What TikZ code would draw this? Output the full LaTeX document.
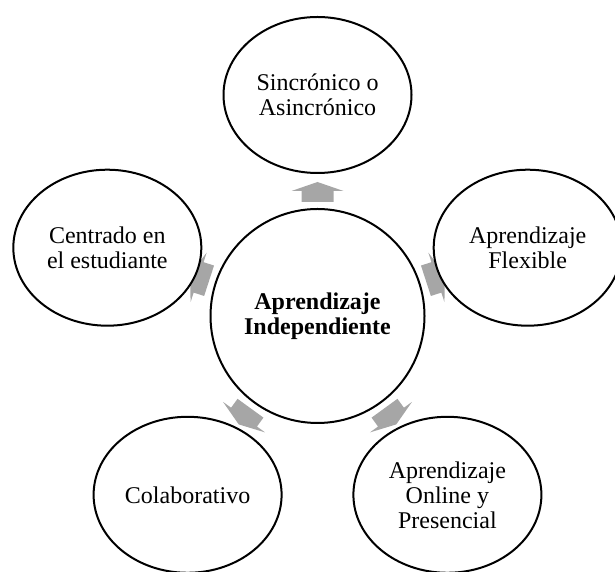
\documentclass[tikz,border=0pt]{standalone}
\usepackage{fontspec}
\setmainfont{Liberation Serif}
\usetikzlibrary{shapes.geometric}
\definecolor{arrowgray}{HTML}{A6A6A6}
\begin{document}
\begin{tikzpicture}[x=1pt,y=1pt,
  outer/.style={draw=black, line width=2pt, fill=white, ellipse,
    minimum width=188pt, minimum height=156pt, inner sep=0pt, align=center,
    font=\fontsize{24}{25}\selectfont},
  hub/.style={draw=black, line width=2pt, fill=white, circle,
    minimum size=214pt, inner sep=0pt, align=center,
    font=\fontsize{24}{25}\selectfont\bfseries},
  blockarrow/.style={fill=arrowgray, draw=none}]
\useasboundingbox (0,0) rectangle (615,572);
\clip (0,0) rectangle (615,572);
\coordinate (c) at (317.5,256);
% diverging arrows (drawn first, partly hidden by the shapes)
\foreach \a in {90,162,234,306,18} {
  \fill[blockarrow, shift={(c)}, rotate=\a-90]
    (-16,114) -- (16,114) -- (16,125) -- (26,125) -- (0,134)
    -- (-26,125) -- (-16,125) -- cycle;
}
\node[hub] (hub) at (c) {Aprendizaje\\Independiente};
\node[outer] (sync) at ([shift={(90:221)}]c) {Sincrónico o\\Asincrónico};
\node[outer] (flex) at ([shift={(18:221)}]c) {Aprendizaje\\Flexible};
\node[outer] (online) at ([shift={(306:221)}]c) {Aprendizaje\\Online y\\Presencial};
\node[outer] (colab) at ([shift={(234:221)}]c) {Colaborativo};
\node[outer] (centr) at ([shift={(162:221)}]c) {Centrado en\\el estudiante};
\end{tikzpicture}
\end{document}
